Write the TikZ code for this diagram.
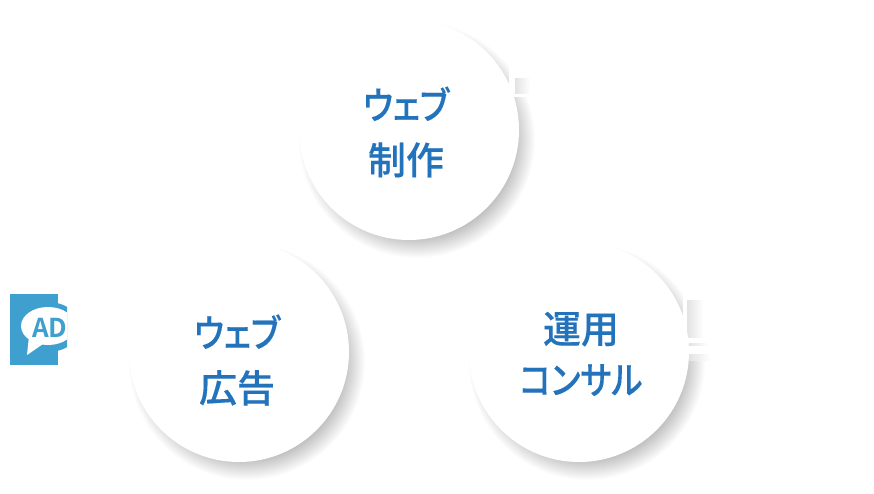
\documentclass[tikz,border=0pt]{standalone}
\usepackage{fontspec}
\setmainfont{Noto Sans CJK JP Medium}[RawFeature={+palt},FakeBold=0.25]
\newfontfamily\kanafont{Noto Sans CJK JP Medium}[RawFeature={+palt},FakeStretch=0.87,FakeBold=0.25]
\newfontfamily\adfont{Noto Sans CJK JP Bold}
\usetikzlibrary{calc}
\definecolor{labelblue}{HTML}{2272BC}
\definecolor{iconblue}{HTML}{3FA0D0}
\tikzset{
  x=1pt,y=-1pt,
  disc/.style={circle,fill=white,minimum size=220pt,inner sep=0pt,text=labelblue,align=center},
  notch/.style={fill=white,draw=none},
  fadeblock/.style={left color=black!11,right color=white,draw=none},
  shadowlayer/.style={fill=black,opacity=0.0105,draw=none}
}
\newcommand{\softshadow}[2]{%
  \foreach \r in {96,97,...,118}{\fill[shadowlayer] (#1+8,#2+10) circle[radius=\r];}%
}
\begin{document}
\begin{tikzpicture}
\useasboundingbox (0,0) rectangle (874,493);
\fill[white] (0,0) rectangle (874,493);
% icon
\fill[iconblue] (10,294) rectangle (58,365);
\begin{scope}
\clip (0,280) rectangle (67,380);
\fill[iconblue] (48,327) ellipse[x radius=32,y radius=25];
\fill[white] (48,326) ellipse[x radius=27,y radius=19];
\fill[white] (29,336) -- (27,355) -- (43,344) -- cycle;
\node[font=\adfont\fontsize{26pt}{26pt}\selectfont,text=iconblue,inner sep=0pt,anchor=base west] (adlabel) at (32,337) {AD};
\end{scope}
% shadows
\softshadow{409}{130}
\softshadow{239}{352}
\softshadow{579}{352}
% notches, upper disc
\fill[notch] (509,50) rectangle (550,78);
\fill[notch] (509,78) rectangle (515,93);
\fill[notch] (512,93) rectangle (550,97);
\fill[fadeblock] (515,78) rectangle (530,93);
% notches, right disc
\fill[notch] (683,285) rectangle (730,338);
\fill[fadeblock] (687,300) rectangle (703,338);
\fill[notch] (687,338) rectangle (730,343.6);
\fill[fadeblock] (689,343.6) rectangle (708,345.6);
\fill[notch] (687,345.6) rectangle (730,354);
\fill[fadeblock] (689,354) rectangle (710,360);
% discs
\node[disc] (web) at (409,130) {};
\node[disc] (ad) at (239,352) {};
\node[disc] (ops) at (579,352) {};
\node[text=labelblue,font=\fontsize{38pt}{55pt}\selectfont,align=center,inner sep=0pt] (webtext) at (406,132) {{\kanafont ウェブ}\\制作};
\node[text=labelblue,font=\fontsize{38pt}{55pt}\selectfont,align=center,inner sep=0pt] (adtext) at (237,360) {{\kanafont ウェブ}\\広告};
\node[text=labelblue,font=\fontsize{38pt}{51pt}\selectfont,align=center,inner sep=0pt] (opstext) at (581,354) {運用\\{\kanafont コンサル}};
\end{tikzpicture}
\end{document}
